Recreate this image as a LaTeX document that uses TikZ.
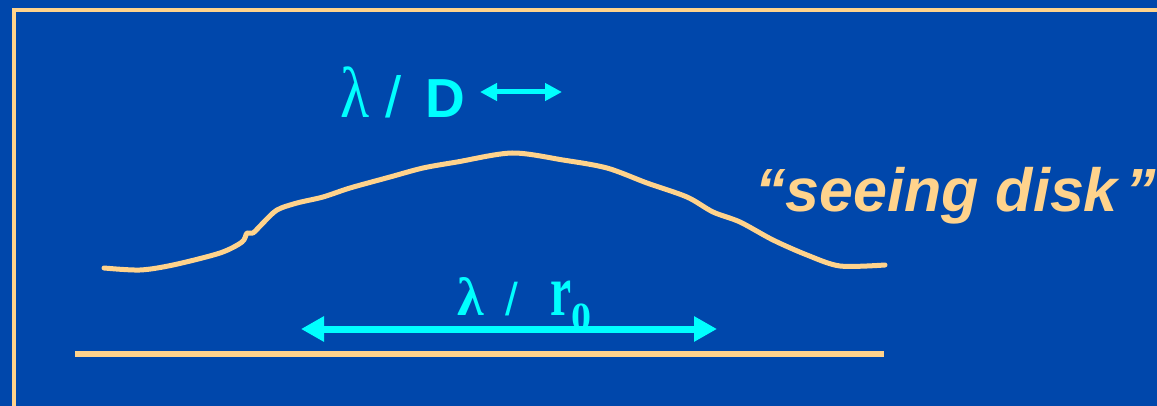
\documentclass[tikz,border=0pt]{standalone}
\usepackage{fontspec}
\setmainfont{Liberation Sans}
\newfontfamily\symfont{Liberation Serif}
\usetikzlibrary{arrows.meta, positioning}
\definecolor{slideblue}{RGB}{0, 71, 171}
\definecolor{diskbeige}{RGB}{255, 211, 140}
\definecolor{labelcyan}{RGB}{0, 255, 255}

\begin{document}
\begin{tikzpicture}[x=1pt, y=-1pt,
    bigarrow/.style={labelcyan, line width=7pt,
        {Triangle[length=23pt, width=24pt]}-{Triangle[length=23pt, width=24pt]}},
    smallarrow/.style={labelcyan, line width=5pt,
        {Triangle[length=17pt, width=17pt]}-{Triangle[length=17pt, width=17pt]}},
    cyanlabel/.style={labelcyan, inner sep=0pt, anchor=base west},
    beigeline/.style={diskbeige, line width=5pt}]
    % Slide background and frame
    \fill[slideblue] (0,0) rectangle (1157,406);
    \useasboundingbox (0,0) rectangle (1157,406);
    \draw[diskbeige, line width=4pt] (14,420) -- (14,10) -- (1170,10);
    % Seeing disk profile
    \draw[beigeline, line cap=round, line join=round]
        plot[smooth, tension=0.5] coordinates {
        (104,268) (140,270) (173,265) (220,253) (242,242) (247,233)
        (253,233) (263,223) (277,210) (297,203) (323,197) (350,188)
        (390,177) (423,168) (457,162) (512,153) (563,160) (607,168)
        (647,183) (687,197) (713,212) (740,222) (773,240) (807,255)
        (840,266) (885,265)};
    % Baseline
    \coordinate (baseL) at (75,354);
    \coordinate (baseR) at (884,354);
    \draw[diskbeige, line width=5.5pt] (baseL) -- (baseR);
    % Diffraction limit
    \node[cyanlabel] (diffr) at (340,118)
        {\scalebox{1}[1.2]{\symfont\fontsize{60}{70}\selectfont λ}%
         \hspace{16pt}{\fontsize{58}{60}\selectfont /}%
         \hspace{24pt}{\bfseries\fontsize{55}{60}\selectfont D}};
    \coordinate (diffrL) at (480,92);
    \coordinate (diffrR) at (562,92);
    \draw[smallarrow] (diffrL) -- (diffrR);
    % Seeing limit
    \node[cyanlabel] (seeinglim) at (457,315)
        {{\symfont\bfseries\fontsize{54}{60}\selectfont λ}%
         \hspace{22pt}{\fontsize{46}{54}\selectfont /}%
         \hspace{32pt}\scalebox{0.85}[1.3]{\symfont\bfseries\fontsize{56}{60}\selectfont r}%
         \raisebox{-15pt}{\symfont\bfseries\fontsize{40}{44}\selectfont 0}};
    \coordinate (seeingL) at (301,329);
    \coordinate (seeingR) at (717,329);
    \draw[bigarrow] (seeingL) -- (seeingR);
    % Label
    \node[inner sep=0pt, anchor=base west, diskbeige] (disk) at (755,212)
        {\fontsize{61}{70}\selectfont\bfseries\itshape “seeing disk\hspace{8pt}”};
\end{tikzpicture}
\end{document}
